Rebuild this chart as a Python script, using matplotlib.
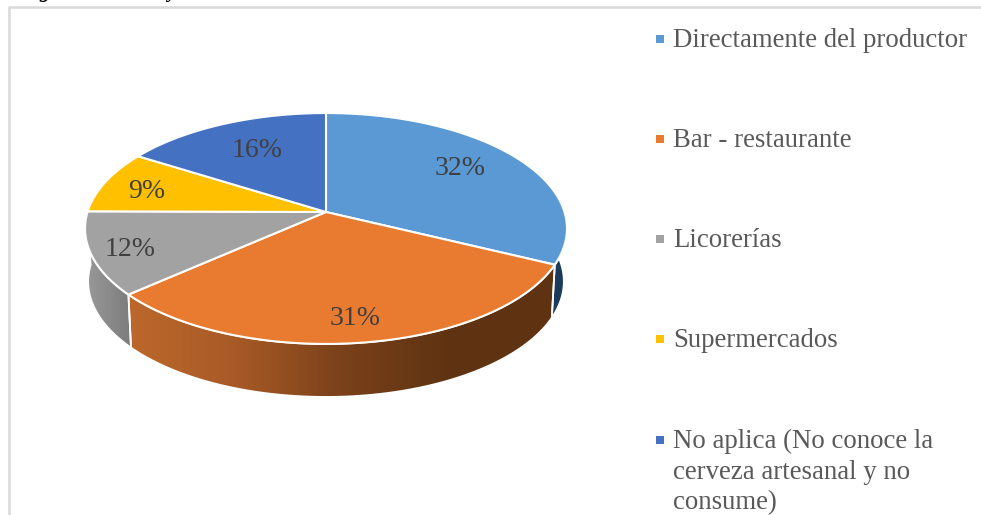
import numpy as np
import matplotlib
matplotlib.use('Agg')
import matplotlib.pyplot as plt
from matplotlib.patches import Polygon
from matplotlib.colors import LinearSegmentedColormap

categories = ['Directamente del productor', 'Bar - restaurante', 'Licorerías',
              'Supermercados', 'No aplica (No conoce la\ncerveza artesanal y no\nconsume)']
values = [32.2, 31.3, 11.6, 8.8, 16.1]
colors = ['#5A99D4', '#E97B30', '#A2A2A2', '#FFC000', '#4471C2']

plt.rcParams['font.family'] = ['Liberation Serif', 'DejaVu Serif']

W, H = 981, 515
fig = plt.figure(figsize=(W/100, H/100), dpi=100)
ax = fig.add_axes([0, 0, 1, 1])

# pie seen in perspective, far side is the top
cx, cy = 326, 212
B, A, k = 238.5, 113.1, 1/7
depth = 53
shrink = 0.987


def project(theta, r=1.0):
    u = r*np.sin(theta)
    v = r*np.cos(theta)
    w = 1 + k*v
    return B*u/w, -A*v/w


def rim(t0, t1):
    t = np.linspace(t0, t1, 80)
    x, y = project(t)
    return np.column_stack([cx+x, cy+y])


def lower_rim(t0, t1):
    t = np.linspace(t0, t1, 80)
    x, y = project(t)
    return np.column_stack([cx+shrink*x, cy+y+depth])


edges = np.cumsum([0]+values)/sum(values)*2*np.pi


def wall(t0, t1, stops):
    pts = np.vstack([rim(t0, t1), lower_rim(t0, t1)[::-1]])
    poly = Polygon(pts, closed=True, fc='none', ec='white', lw=1.3, zorder=3)
    ax.add_patch(poly)
    cmap = LinearSegmentedColormap.from_list('w', stops)
    grad = np.linspace(0, 1, 256).reshape(1, -1)
    im = ax.imshow(grad, cmap=cmap, aspect='auto', zorder=2,
                   extent=[pts[:, 0].min(), pts[:, 0].max(), pts[:, 1].max(), pts[:, 1].min()])
    im.set_clip_path(poly)


# side walls, gradients run left to right
wall(np.pi/2-0.35, edges[1], ['#1F3F5F', '#1B3A58'])
wall(edges[1], edges[2], ['#BC682C', '#A85A26', '#7A411A', '#5F3312', '#5F3312'])
wall(edges[2], 3*np.pi/2, ['#9A9A9A', '#7C7C7C'])

# top face
for i in range(len(values)):
    pts = np.vstack([[cx, cy], rim(edges[i], edges[i+1])])
    ax.add_patch(Polygon(pts, closed=True, fc=colors[i], ec='white', lw=1.5, zorder=4, joinstyle='round'))

# labels sit along the slice middle, nudged a bit in y
label_r = [0.70, 0.81, 0.84, 0.81, 0.64]
label_dy = [-4, 4, 3, 4, -3]
for i in range(len(values)):
    mid = (edges[i]+edges[i+1])/2
    x, y = project(mid, label_r[i])
    ax.text(cx+x, cy+y+label_dy[i], '%.0f%%' % values[i], fontsize=20, color='#404040',
            ha='center', va='center', zorder=5)

# legend
leg_y = [39, 139, 239, 339, 440]
for i in range(len(categories)):
    ax.scatter([660], [leg_y[i]], marker='s', s=26, color=colors[i], linewidths=0, zorder=5)
    ax.text(673, leg_y[i]-11, categories[i], fontsize=19.3, color='#595959', ha='left', va='top',
            linespacing=1.3, zorder=5)

# chart frame
ax.plot([8.5, 8.5, W], [H, 6.5, 6.5], color='#D9D9D9', lw=1.8, zorder=1)

# caption above the crop, only the descenders show
ax.text(45, -8, 'g', fontsize=15, fontweight='bold', style='italic', color='black', ha='center', va='center', clip_on=True)
ax.text(172, -8, 'y', fontsize=15, fontweight='bold', style='italic', color='black', ha='center', va='center', clip_on=True)

ax.set_xlim(0, W)
ax.set_ylim(H, 0)
ax.axis('off')
fig.savefig('out.png', dpi=100, facecolor='white')
